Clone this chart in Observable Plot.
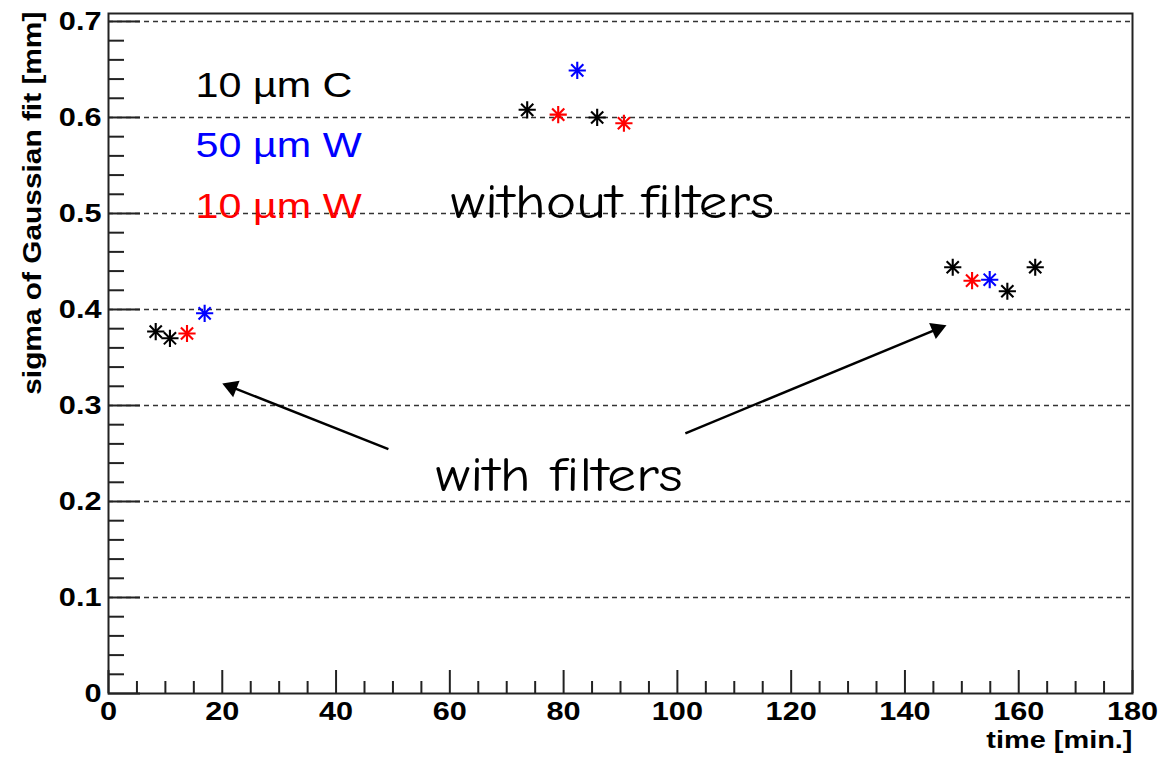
<!DOCTYPE html>
<html><head><meta charset="utf-8">
<script src="https://cdn.jsdelivr.net/npm/d3@7"></script>
<script src="https://cdn.jsdelivr.net/npm/@observablehq/plot@0.6"></script>
<style>body{margin:0;background:#fff}</style>
</head><body><div id="chart"></div>
<script>
// ---- data ----
const times   = [8.3, 10.8, 13.8, 16.9, 73.6, 79.05, 82.4, 85.9, 90.6, 148.4, 151.8, 154.9, 158.0, 162.9];
const sigmas  = [0.377, 0.370, 0.375, 0.396, 0.608, 0.603, 0.649, 0.600, 0.594, 0.444, 0.430, 0.431, 0.419, 0.444];
const targets = ["10 µm C","10 µm C","10 µm W","50 µm W","10 µm C","10 µm W","50 µm W","10 µm C","10 µm W","10 µm C","10 µm W","50 µm W","10 µm C","10 µm C"];
const seriesNames  = ["10 µm C", "50 µm W", "10 µm W"];
const seriesColors = ["#000000", "#0000ff", "#ff0000"];
const xTicks = [0, 20, 40, 60, 80, 100, 120, 140, 160, 180];
const yTicks = [0, 0.1, 0.2, 0.3, 0.4, 0.5, 0.6, 0.7];
const xLabel = "time [min.]";
const yLabel = "sigma of Gaussian fit [mm]";
const annoText = ["without filters", "with filters"];
// annotation placement (data units)
const annoX = [60.1, 57.5];
const annoY = [0.5113, 0.2269];
const legendX = 15.3;
const legendY = [0.6325, 0.570, 0.5065];
const arrowX1 = [49.2, 101.4], arrowY1 = [0.2545, 0.271];
const arrowX2 = [20.0, 147.3], arrowY2 = [0.323, 0.3836];

// ---- layout ----
const W = 1158, H = 762, mL = 108, mR = 26, mT = 13, mB = 69;
const plotW = W - mL - mR, plotH = H - mT - mB;
const yMax = 0.7083;
const xMinor = d3.range(0, 181, 5).filter(d => d % 20 !== 0);
const yMinor = d3.range(0, 36).filter(i => i % 5 !== 0).map(i => i / 50);
const idx = d3.range(times.length);
const arrowIdx = d3.range(arrowX1.length);

// arrowheads computed from the arrow data in pixel space
const X = d3.scaleLinear([0, 180], [mL, W - mR]);
const Y = d3.scaleLinear([0, yMax], [H - mB, mT]);
const headR = 6.5;
const heads = arrowIdx.map(i => {
  const px1 = X(arrowX1[i]), py1 = Y(arrowY1[i]), px2 = X(arrowX2[i]), py2 = Y(arrowY2[i]);
  const L = Math.hypot(px2 - px1, py2 - py1);
  const ux = (px2 - px1) / L, uy = (py2 - py1) / L;
  const off = 1.555 * headR;
  return {x: X.invert(px2 - ux * off), y: Y.invert(py2 - uy * off), a: Math.atan2(ux, -uy) * 180 / Math.PI};
});

const frameStroke = "#222";
const chart = Plot.plot({
  width: W, height: H,
  marginLeft: mL, marginRight: mR, marginTop: mT, marginBottom: mB,
  style: {fontFamily: "'Liberation Sans', Arial, Helvetica, sans-serif", fontSize: "26px", fontWeight: "bold", background: "white", color: "black"},
  x: {domain: [0, 180]},
  y: {domain: [0, yMax]},
  color: {domain: seriesNames, range: seriesColors},
  marks: [
    Plot.ruleY(yTicks.filter(d => d > 0), {y: d => d, stroke: "#333", strokeWidth: 1.4, strokeDasharray: "5,4"}),
    Plot.tickX(xTicks, {x: d => d, insetTop: plotH - 23, stroke: frameStroke, strokeWidth: 2}),
    Plot.tickX(xMinor, {x: d => d, insetTop: plotH - 12, stroke: frameStroke, strokeWidth: 2}),
    Plot.tickY(yTicks, {y: d => d, insetRight: plotW - 32, stroke: frameStroke, strokeWidth: 2}),
    Plot.tickY(yMinor, {y: d => d, insetRight: plotW - 16, stroke: frameStroke, strokeWidth: 2}),
    Plot.frame({stroke: frameStroke, strokeWidth: 2}),
    Plot.axisX({ticks: xTicks, tickSize: 0, tickPadding: 8, label: null, tickFormat: d => String(d)}),
    Plot.axisY({ticks: yTicks, tickSize: 0, tickPadding: 7, label: null, tickFormat: d => d === 0 ? "0" : d.toFixed(1)}),
    Plot.text([xLabel], {text: d => d, frameAnchor: "bottom-right", dy: 47, textAnchor: "end", lineAnchor: "middle", fontSize: 24.5}),
    Plot.text([yLabel], {text: d => d, frameAnchor: "left", y: () => 0.5107, rotate: -90, dx: -76, textAnchor: "middle", lineAnchor: "middle", fontSize: 25.3}),
    // data markers: ROOT-style 8-armed asterisk
    Plot.dot(idx, {x: i => times[i], y: i => sigmas[i], stroke: i => targets[i], symbol: "plus", r: 5.6, strokeWidth: 2.1}),
    Plot.dot(idx, {x: i => times[i], y: i => sigmas[i], stroke: i => targets[i], symbol: "times", r: 5.6, strokeWidth: 2.1}),
    Plot.dot(idx, {x: i => times[i], y: i => sigmas[i], fill: i => targets[i], r: 2.4}),
    // legend text
    Plot.text(seriesNames, {x: () => legendX, y: (d, i) => legendY[i], text: d => d, fill: d => d, textAnchor: "start", fontSize: 35, fontWeight: "normal"}),
    // annotations
    Plot.text(annoText, {x: (d, i) => annoX[i], y: (d, i) => annoY[i], text: d => d, textAnchor: "start", fontSize: 49, fontWeight: "normal", fill: "black",
      fontFamily: "'Comic Sans MS', 'Comic Neue', 'DejaVu Sans', sans-serif"}),
    Plot.link(arrowIdx, {x1: i => arrowX1[i], y1: i => arrowY1[i], x2: i => heads[i].x, y2: i => heads[i].y, stroke: "black", strokeWidth: 2.5}),
    Plot.dot(arrowIdx, {x: i => heads[i].x, y: i => heads[i].y, symbol: "triangle", rotate: i => heads[i].a, r: headR, fill: "black", stroke: "none"})
  ]
});
document.getElementById("chart").append(chart);
// horizontal stretch of glyphs to match the reference's wide lettering
chart.querySelectorAll("text").forEach(t => {
  const w = t.getComputedTextLength();
  if (w > 0) {
    t.setAttribute("textLength", (w * 1.18).toFixed(1));
    t.setAttribute("lengthAdjust", "spacingAndGlyphs");
  }
});
</script>
</body></html>
